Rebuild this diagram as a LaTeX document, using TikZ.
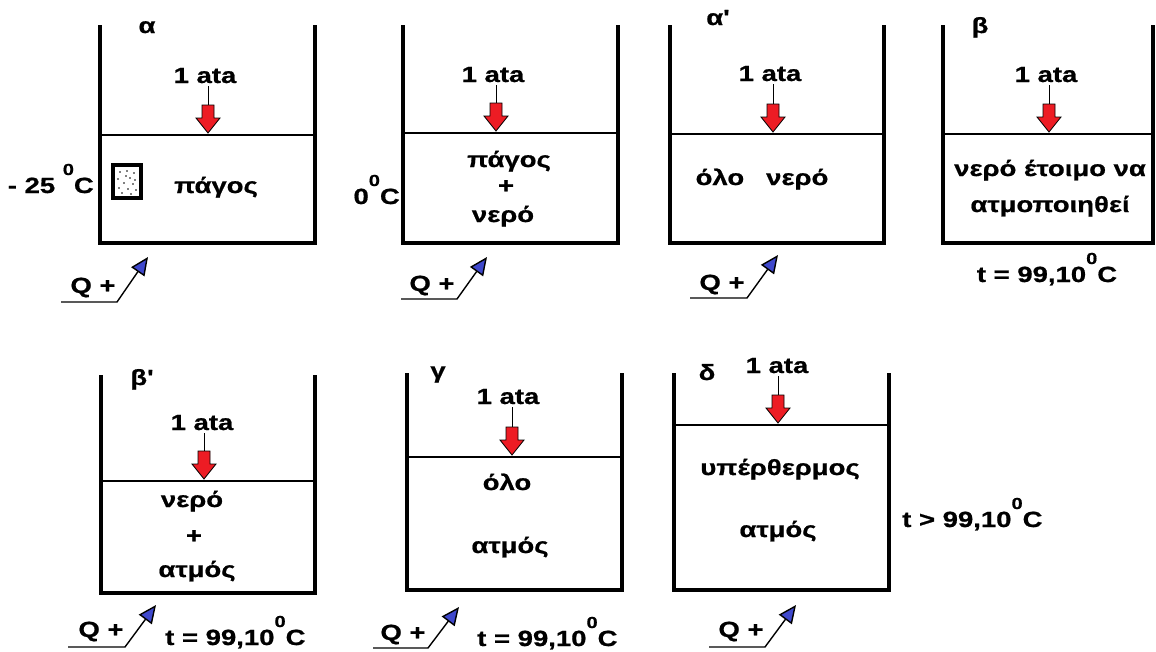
\documentclass[tikz,border=0pt]{standalone}
\usepackage{fontspec}
\newfontfamily\lab[FakeStretch=1.25, BoldFeatures={FakeBold=0.8}]{Liberation Sans}
\usetikzlibrary{arrows.meta,calc}
\definecolor{pred}{RGB}{237,28,36}
\definecolor{qblue}{RGB}{63,72,204}
\newcommand\supz{\raisebox{18pt}{\fontsize{16}{16}\selectfont 0}}
\newcommand\vessel[5]{%
  \draw[wall] (#1,#3) -- (#1,#4) -- (#2,#4) -- (#2,#3);
  \draw[surf] (#1,#5) -- (#2,#5);}
\begin{document}
\begin{tikzpicture}[x=1pt,y=-1pt,
  txt/.style={font=\lab\bfseries\fontsize{22}{26}\selectfont, inner sep=0pt, anchor=base},
  wall/.style={line width=4.5pt, line join=miter},
  surf/.style={line width=1.4pt},
  stem/.style={line width=1pt},
  qline/.style={line width=1.4pt, -{Triangle[length=18pt,width=16pt,fill=qblue]}},
  redarr/.pic={\draw[fill=pred, line width=0.8pt] (0,0) -- (-12,-15) -- (-6,-15) -- (-6,-28) -- (6,-28) -- (6,-15) -- (12,-15) -- cycle;}
]
\useasboundingbox (0,0) rectangle (1156,651);

% ---------- vessels ----------
\vessel{100}{315}{25}{243}{135}
\vessel{403}{618}{25}{243}{133}
\vessel{670}{884}{25}{243}{134}
\vessel{943}{1153}{25}{243}{134}
\vessel{101}{315}{375}{593}{481}
\vessel{407}{622}{373}{590}{457}
\vessel{674}{889}{373}{590}{425}

% ---------- labels ----------
\node[txt] (lblA) at (147,33) {α};
\node[txt] (lblC) at (718,25) {α'};
\node[txt] (lblD) at (980,33) {β};
\node[txt] (lblE) at (142,385) {β'};
\node[txt] (lblF) at (438,378) {γ};
\node[txt] (lblG) at (707,380) {δ};

% ---------- 1 ata + red arrows ----------
\node[txt] (ataA) at (205,83) {1 ata};
\node[txt] (ataB) at (493,82) {1 ata};
\node[txt] (ataC) at (770,81) {1 ata};
\node[txt] (ataD) at (1046,82) {1 ata};
\node[txt] (ataE) at (202,430) {1 ata};
\node[txt] (ataF) at (508,404) {1 ata};
\node[txt] (ataG) at (777,373) {1 ata};

\coordinate (tipA) at (208,133);
\coordinate (tipB) at (496,131);
\coordinate (tipC) at (773,132);
\coordinate (tipD) at (1049,132);
\coordinate (tipE) at (204,479);
\coordinate (tipF) at (512,455);
\coordinate (tipG) at (778,423);
\foreach \n in {A,B,C,D,E,F,G}{
  \draw[stem] (ata\n.south -| tip\n) ++(0,3) -- ($(tip\n)+(0,-28)$);
  \pic at (tip\n) {redarr};
}

% ---------- contents ----------
\node[txt] (pagA) at (216,193) {πάγος};
\node[txt, anchor=base east] (tempA) at (94,193) {- 25 \supz C};
\draw[line width=3.5pt, fill=white] (113,165) rectangle (141,198);
\foreach \dx/\dy in {120/172,127/171,134/173,118/179,130/178,124/183,133/184,119/188,128/189,136/190,122/193,131/194,126/176,135/180}{
  \fill (\dx,\dy) circle (0.8);
}

\node[txt] (pagB) at (509,167) {πάγος};
\node[txt] (plusB) at (506,193) {+};
\node[txt] (nerB) at (503,222) {νερό};
\node[txt, anchor=base east] (tempB) at (400,204) {0\supz C};

\node[txt] (olC) at (762,185) {όλο\hspace{22pt}νερό};

\node[txt] (nerD) at (1050,176) {νερό έτοιμο να};
\node[txt] (atmD) at (1050,212) {ατμοποιηθεί};
\node[txt] (tD) at (1047,282) {t = 99,10\supz C};

\node[txt] (nerE) at (192,507) {νερό};
\node[txt] (plusE) at (194,543) {+};
\node[txt] (atmE) at (197,577) {ατμός};
\node[txt, anchor=base west] (tE) at (165,645) {t = 99,10\supz C};

\node[txt] (olF) at (507,490) {όλο};
\node[txt] (atmF) at (510,553) {ατμός};
\node[txt, anchor=base west] (tF) at (477,646) {t = 99,10\supz C};

\node[txt] (ypG) at (780,475) {υπέρθερμος};
\node[txt] (atmG) at (778,537) {ατμός};
\node[txt, anchor=base west] (tG) at (902,527) {t > 99,10\supz C};

% ---------- Q+ heat arrows ----------
\node[txt] (QA) at (93,293) {Q +};
\node[txt] (QB) at (432,291) {Q +};
\node[txt] (QC) at (722,290) {Q +};
\node[txt] (QE) at (101,637) {Q +};
\node[txt] (QF) at (403,640) {Q +};
\node[txt] (QG) at (741,637) {Q +};

\coordinate (qA0) at (61,302);  \coordinate (qA1) at (117,302); \coordinate (qA2) at (148,257);
\coordinate (qB0) at (401,299); \coordinate (qB1) at (457,299); \coordinate (qB2) at (487,257);
\coordinate (qC0) at (690,298); \coordinate (qC1) at (747,298); \coordinate (qC2) at (778,255);
\coordinate (qE0) at (68,647);  \coordinate (qE1) at (125,647); \coordinate (qE2) at (156,605);
\coordinate (qF0) at (373,648); \coordinate (qF1) at (428,648); \coordinate (qF2) at (459,607);
\coordinate (qG0) at (709,647); \coordinate (qG1) at (765,647); \coordinate (qG2) at (796,605);
\foreach \n in {A,B,C,E,F,G}{
  \draw[qline] (q\n0) -- (q\n1) -- (q\n2);
}
\end{tikzpicture}
\end{document}
